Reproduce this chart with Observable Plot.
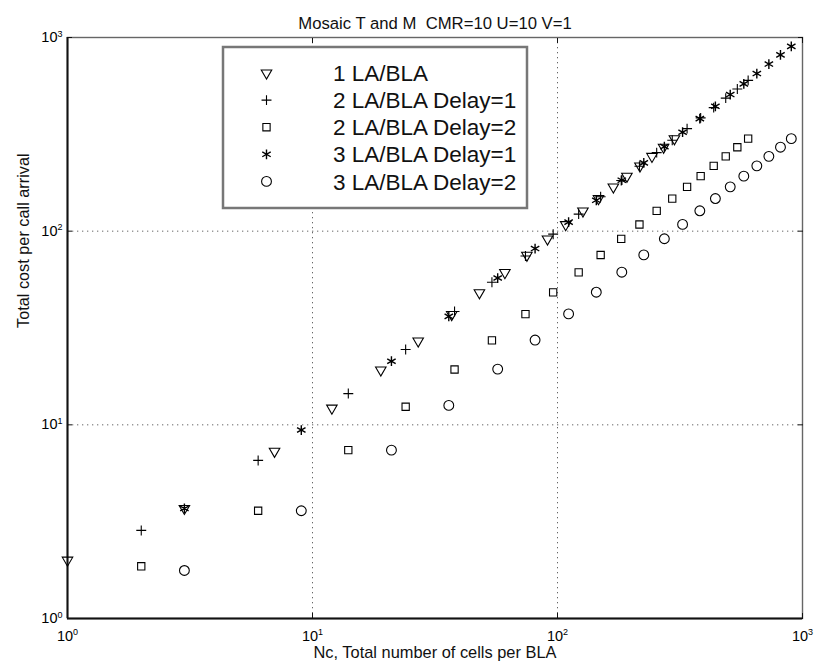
<!DOCTYPE html>
<html><head><meta charset="utf-8">
<script src="https://cdn.jsdelivr.net/npm/d3@7"></script>
<script src="https://cdn.jsdelivr.net/npm/@observablehq/plot@0.6"></script>
<style>body{margin:0;background:#fff} svg{display:block}</style>
</head><body><div id="chart"></div>
<script>
const titleText = "Mosaic T and M  CMR=10 U=10 V=1";
const xLabel = "Nc, Total number of cells per BLA";
const yLabel = "Total cost per call arrival";
const decadeTicks = [1, 10, 100, 1000];
const seriesNames = ["1 LA/BLA", "2 LA/BLA Delay=1", "2 LA/BLA Delay=2", "3 LA/BLA Delay=1", "3 LA/BLA Delay=2"];

// cells per BLA
const cells1 = [1,3,7,12,19,27,37,48,61,75,91,108,127,147,169,192,217,243,271,300];
const cells2 = [2,6,14,24,38,54,74,96,122,150,182,216,254,294,338,384,434,486,542,600];
const cells3 = [3,9,21,36,57,81,111,144,183,225,273,324,381,441,507,576,651,729,813,900];

// total cost per call arrival
const cost1 = [2.0,3.7,7.3,12.2,19.2,27.1,37.1,48.1,61.1,75.1,91.1,108.1,127.1,147.1,169.1,192.1,217.1,243.1,271.1,300.1];
const cost2d1 = [2.85,6.55,14.5,24.5,38.5,54.5,74.5,96.5,122.5,150.5,182.5,216.5,254.5,294.5,338.5,384.5,434.5,486.5,542.5,600.5];
const cost2d2 = [1.86,3.6,7.4,12.4,19.3,27.3,37.3,48.3,61.3,75.3,91.3,108.3,127.3,147.3,169.3,192.3,217.3,243.3,271.3,300.3];
const cost3d1 = [3.7,9.4,21.3,36.3,57.3,81.3,111.3,144.3,183.3,225.3,273.3,324.3,381.3,441.3,507.3,576.3,651.3,729.3,813.3,900.3];
const cost3d2 = [1.77,3.6,7.4,12.6,19.4,27.4,37.4,48.4,61.4,75.4,91.4,108.4,127.4,147.4,169.4,192.4,217.4,243.4,271.4,300.4];

const markerSymbols = ["triangle", "plus", "square", "asterisk", "circle"];
const markerR = [3.9, 3.3, 4.1, 4.6, 4.9];
const markerRotate = [180, 0, 0, 0, 0];

const seriesX = [cells1, cells2, cells2, cells3, cells3];
const seriesY = [cost1, cost2d1, cost2d2, cost3d1, cost3d2];

const font = "'Liberation Sans', Arial, Helvetica, sans-serif";

const dotMarks = seriesNames.map((name, k) => {
  const rows = seriesX[k].map((x, i) => ({series: name, x, y: seriesY[k][i]}));
  return Plot.dot(rows, {
    x: "x", y: "y", symbol: () => markerSymbols[k], r: markerR[k],
    rotate: markerRotate[k], stroke: "black", fill: "none", strokeWidth: k === 3 ? 1.4 : 1.1
  });
});

const plot = Plot.plot({
  width: 825, height: 667,
  marginLeft: 67, marginRight: 23, marginTop: 37, marginBottom: 49,
  style: {fontFamily: font, background: "#fff", color: "#111"},
  x: {type: "log", domain: [1, 1000]},
  y: {type: "log", domain: [1, 1000]},
  symbol: {type: "identity"},
  marks: [
    Plot.gridX([10, 100], {stroke: "#666", strokeOpacity: 1, strokeWidth: 1, strokeDasharray: "1.3,3.7"}),
    Plot.gridY([10, 100], {stroke: "#666", strokeOpacity: 1, strokeWidth: 1, strokeDasharray: "1.3,3.7"}),
    Plot.frame({stroke: "#666", strokeWidth: 1.4}),
    Plot.axisX(decadeTicks, {anchor: "bottom", tickSize: -5, tickPadding: 17, tickFormat: d => "10^" + Math.round(Math.log10(d)), label: null}),
    Plot.axisX(decadeTicks, {anchor: "top", tickSize: -5, tickFormat: () => "", label: null}),
    Plot.axisY(decadeTicks, {anchor: "left", tickSize: -5, tickPadding: 10, tickFormat: d => "10^" + Math.round(Math.log10(d)), label: null}),
    Plot.axisY(decadeTicks, {anchor: "right", tickSize: -5, tickFormat: () => "", label: null}),
    Plot.ruleX([1], {stroke: "#111", strokeWidth: 2}),
    Plot.ruleY([1], {stroke: "#111", strokeWidth: 2}),
    ...dotMarks,
    Plot.text([titleText], {frameAnchor: "top", dy: -20, fontSize: 16.7, fill: "#111"}),
    Plot.text([xLabel], {frameAnchor: "bottom", dy: 39, fontSize: 16.4, fill: "#111"}),
    Plot.text([yLabel], {frameAnchor: "left", dx: -44, rotate: -90, fontSize: 16.3, fill: "#111"})
  ]
});

const svg = d3.select(plot);
// superscript exponents on tick labels
svg.selectAll('g[aria-label="x-axis tick label"], g[aria-label="y-axis tick label"]').style("font-size", "14.5px");
svg.selectAll('g[aria-label="x-axis tick label"] text, g[aria-label="y-axis tick label"] text').each(function() {
  const t = d3.select(this);
  const s = t.text();
  if (!s.includes("^")) return;
  const [base, exp] = s.split("^");
  t.text(null).style("font-size", "14.5px").attr("fill", "#000");
  t.append("tspan").style("font-size", "14.5px").text(base);
  t.append("tspan").attr("dy", "-0.6em").style("font-size", "9px").text(exp);
});

// legend
const lg = svg.append("g").attr("font-family", font).attr("text-anchor", "start");
lg.append("rect").attr("x", 223).attr("y", 47).attr("width", 304).attr("height", 161)
  .attr("fill", "white").attr("stroke", "#777").attr("stroke-width", 2.5);
const symTypes = {triangle: d3.symbolTriangle, plus: d3.symbolPlus, square: d3.symbolSquare, asterisk: d3.symbolAsterisk, circle: d3.symbolCircle};
seriesNames.forEach((name, k) => {
  const yy = 73 + k * 27.1;
  lg.append("path")
    .attr("d", d3.symbol(symTypes[markerSymbols[k]], Math.PI * markerR[k] * markerR[k])())
    .attr("transform", `translate(266.5,${yy}) rotate(${markerRotate[k]})`)
    .attr("fill", "none").attr("stroke", "black").attr("stroke-width", k === 3 ? 1.4 : 1.1);
  lg.append("text").attr("x", 333).attr("y", yy).attr("dy", "0.36em")
    .attr("font-size", 22.5).attr("fill", "#111").attr("text-anchor", "start").text(name);
});

document.getElementById("chart").appendChild(plot);
</script>
</body></html>
